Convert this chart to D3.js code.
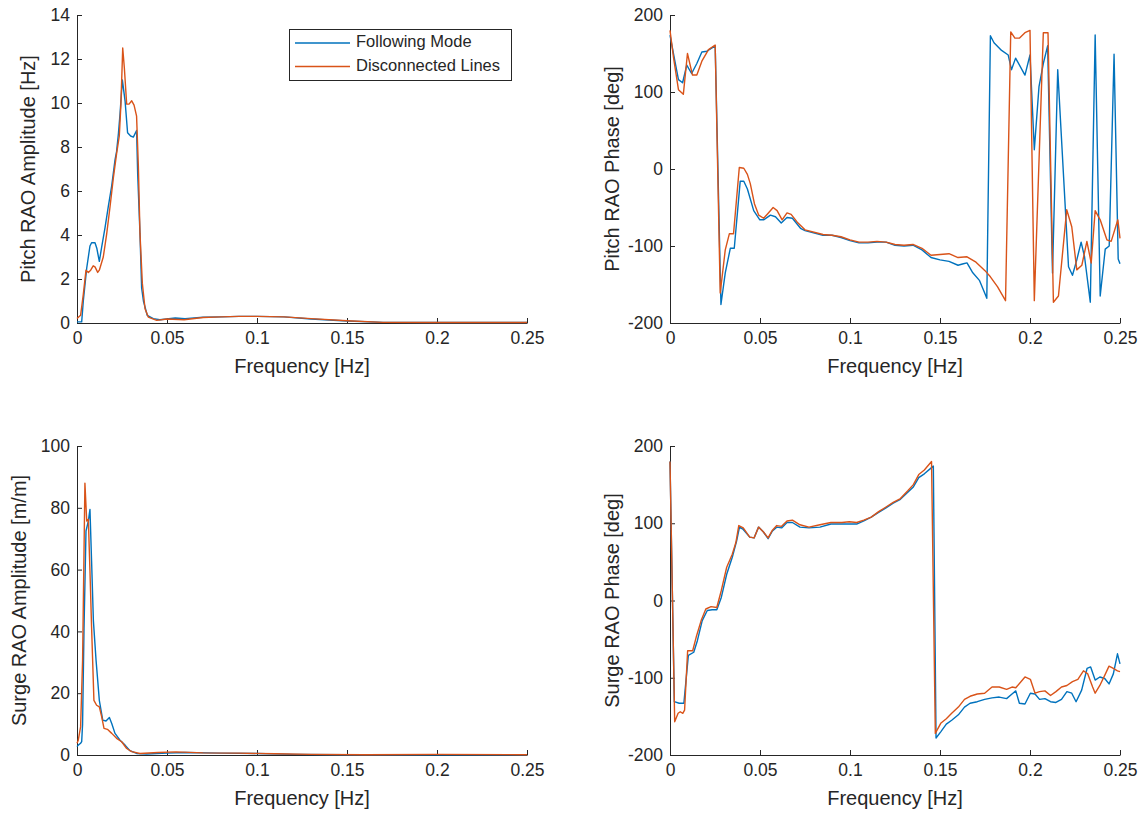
<!DOCTYPE html>
<html><head><meta charset="utf-8">
<script src="https://cdn.jsdelivr.net/npm/d3@7"></script>
<style>
body{margin:0;background:#fff}
svg{display:block}
text{font-family:"Liberation Sans",Arial,Helvetica,sans-serif;fill:#262626}
</style>
</head><body>
<svg id="c" width="1144" height="820"></svg>
<script>
// ---------- data ----------
const freqTicks = [0, 0.05, 0.1, 0.15, 0.2, 0.25];
const freqTickLabels = ["0", "0.05", "0.1", "0.15", "0.2", "0.25"];
const pitchAmpTicks = [0, 2, 4, 6, 8, 10, 12, 14];
const surgeAmpTicks = [0, 20, 40, 60, 80, 100];
const phaseTicks = [-200, -100, 0, 100, 200];
const seriesNames = ["Following Mode", "Disconnected Lines"];

// [frequency Hz, value]
const pitchAmpFollow = [[0,0.05],[0.0026,0.05],[0.0035,1.0],[0.0054,2.5],[0.0072,3.5],[0.0081,3.65],[0.01,3.65],[0.011,3.4],[0.0124,2.8],[0.0137,3.45],[0.0156,4.35],[0.0174,5.3],[0.0193,6.25],[0.0211,7.4],[0.022,7.8],[0.023,8.6],[0.0239,9.5],[0.0252,11.05],[0.0267,10.1],[0.0281,8.65],[0.0298,8.5],[0.0313,8.45],[0.0331,8.75],[0.0337,6.8],[0.035,4.05],[0.0359,1.6],[0.0369,1.0],[0.039,0.35],[0.0424,0.2],[0.046,0.15],[0.0546,0.23],[0.06,0.2],[0.07,0.26],[0.08,0.28],[0.09,0.3],[0.1,0.3],[0.115,0.28],[0.13,0.18],[0.15,0.09],[0.17,0.03],[0.2,0.02],[0.25,0.02]];
const pitchAmpDisc = [[0,0.2],[0.002,0.35],[0.0035,1.3],[0.005,2.4],[0.0063,2.3],[0.0076,2.4],[0.009,2.6],[0.01,2.55],[0.0115,2.3],[0.0124,2.4],[0.0146,3.0],[0.0165,4.05],[0.0183,5.25],[0.0202,6.6],[0.022,7.7],[0.0235,8.5],[0.0244,9.95],[0.0254,12.5],[0.0263,11.6],[0.0276,9.95],[0.0289,9.95],[0.0304,10.1],[0.0317,9.9],[0.0331,9.4],[0.0341,7.1],[0.035,4.05],[0.0363,1.8],[0.0378,0.65],[0.0396,0.27],[0.0443,0.12],[0.05,0.18],[0.0595,0.15],[0.07,0.25],[0.08,0.28],[0.09,0.3],[0.1,0.3],[0.115,0.28],[0.13,0.2],[0.15,0.1],[0.17,0.03],[0.2,0.02],[0.25,0.02]];

const pitchPhaseFollow = [[0,174],[0.0028,139],[0.0047,116],[0.007,112],[0.0093,135],[0.012,124],[0.0149,137],[0.0177,152],[0.0205,153],[0.0251,160],[0.0283,-176],[0.0307,-135],[0.0335,-103],[0.0357,-103],[0.039,-16],[0.041,-16],[0.043,-26],[0.0465,-54],[0.0499,-66],[0.052,-66],[0.0558,-60],[0.0586,-62],[0.0618,-70],[0.065,-63],[0.068,-64],[0.0725,-77],[0.075,-80],[0.085,-86],[0.09,-86],[0.095,-89],[0.1,-93],[0.105,-96],[0.11,-96],[0.115,-95],[0.12,-95],[0.125,-99],[0.13,-100],[0.135,-99],[0.14,-105],[0.145,-115],[0.15,-118],[0.155,-120],[0.16,-125],[0.163,-123],[0.165,-122],[0.168,-134],[0.172,-145],[0.175,-162],[0.176,-168],[0.178,173],[0.18,164],[0.1842,154],[0.1879,148],[0.1897,129],[0.192,144],[0.1972,122],[0.2,148],[0.2024,25],[0.205,107],[0.2074,137],[0.2098,160],[0.2125,-135],[0.2154,129],[0.2214,-127],[0.2236,-138],[0.226,-118],[0.2284,-95],[0.2303,-114],[0.2335,-173],[0.2362,174],[0.239,-165],[0.2418,-104],[0.244,-100],[0.2467,149],[0.249,-117],[0.25,-123]];
const pitchPhaseDisc = [[0,180],[0.002,144],[0.0047,103],[0.0074,97],[0.0097,150],[0.0125,122],[0.0149,122],[0.0177,140],[0.0214,155],[0.0251,161],[0.0279,-161],[0.0307,-105],[0.033,-84],[0.0353,-84],[0.0385,2],[0.041,1],[0.043,-7],[0.0446,-19],[0.0469,-45],[0.0493,-60],[0.052,-64],[0.0543,-58],[0.0573,-50],[0.0595,-54],[0.0623,-66],[0.065,-57],[0.0673,-59],[0.0707,-69],[0.075,-79],[0.085,-85],[0.09,-86],[0.095,-88],[0.1,-92],[0.105,-95],[0.11,-95],[0.115,-94],[0.12,-95],[0.125,-98],[0.13,-99],[0.135,-98],[0.14,-103],[0.145,-112],[0.15,-111],[0.155,-110],[0.16,-115],[0.165,-114],[0.17,-121],[0.175,-132],[0.178,-140],[0.182,-153],[0.1864,-171],[0.1893,178],[0.1916,170],[0.1942,170],[0.1972,177],[0.2,180],[0.2024,-171],[0.2074,177],[0.21,177],[0.213,-173],[0.2158,-165],[0.2204,-53],[0.2232,-75],[0.226,-131],[0.2288,-125],[0.2316,-94],[0.234,-122],[0.2362,-54],[0.239,-66],[0.2427,-92],[0.2451,-94],[0.2488,-66],[0.25,-90]];

const surgeAmpFollow = [[0,2.7],[0.0007,3.2],[0.002,3.8],[0.0026,4.3],[0.0031,10],[0.0039,41],[0.005,72.5],[0.0063,75.7],[0.0072,79.5],[0.0081,62.8],[0.0091,43.5],[0.0106,30.6],[0.0124,17.7],[0.0143,11.3],[0.0161,11],[0.018,12.1],[0.0193,10.2],[0.0211,7],[0.0239,4.8],[0.0267,3.2],[0.0294,1.4],[0.0331,0.5],[0.0387,0.3],[0.05,0.6],[0.06,0.8],[0.08,0.6],[0.1,0.5],[0.12,0.2],[0.15,0.1],[0.2,0.1],[0.25,0.1]];
const surgeAmpDisc = [[0,3.8],[0.0007,4.8],[0.002,9.1],[0.0031,30.6],[0.0044,88],[0.0054,75.7],[0.0063,76.3],[0.0072,59.6],[0.0081,41.4],[0.0094,17.7],[0.0109,16.1],[0.0124,15.6],[0.0137,12.4],[0.015,8.6],[0.0169,8.3],[0.0193,7],[0.022,5.4],[0.0248,4.3],[0.0276,2.1],[0.0304,1.1],[0.035,0.5],[0.045,0.8],[0.055,1.0],[0.07,0.7],[0.09,0.6],[0.11,0.4],[0.13,0.2],[0.16,0.1],[0.2,0.2],[0.25,0.1]];

const surgePhaseFollow = [[0,180],[0.0024,-131],[0.0051,-133],[0.0077,-133],[0.0102,-71],[0.0132,-67],[0.0152,-52],[0.0179,-26],[0.0207,-13],[0.0234,-12],[0.026,-12],[0.0285,4],[0.0315,34],[0.0346,56],[0.037,77],[0.0386,95],[0.0407,92],[0.0443,82],[0.0467,81],[0.0492,95],[0.0518,89],[0.0545,80],[0.0569,90],[0.0593,95],[0.062,94],[0.065,101],[0.068,101],[0.0722,95],[0.0772,94],[0.0833,95],[0.0894,99],[0.0955,99],[0.0996,99],[0.1037,99],[0.1077,103],[0.1118,108],[0.1159,114],[0.12,120],[0.124,126],[0.128,131],[0.1321,140],[0.1352,147],[0.1382,159],[0.1413,164],[0.1453,172],[0.1463,174],[0.1478,-178],[0.1504,-170],[0.1535,-160],[0.1565,-155],[0.1602,-148],[0.1636,-138],[0.1667,-133],[0.1707,-131],[0.1748,-128],[0.1789,-126],[0.1829,-125],[0.187,-127],[0.19,-121],[0.1921,-117],[0.1941,-133],[0.1972,-134],[0.2002,-120],[0.2028,-121],[0.2053,-128],[0.2083,-127],[0.2114,-131],[0.2144,-132],[0.2175,-128],[0.2205,-118],[0.2232,-120],[0.2256,-131],[0.2287,-116],[0.2317,-88],[0.2337,-86],[0.2362,-103],[0.2388,-99],[0.2415,-101],[0.2439,-108],[0.2463,-95],[0.2486,-69],[0.25,-82]];
const surgePhaseDisc = [[0,180],[0.0026,-157],[0.0045,-146],[0.0057,-144],[0.0071,-146],[0.0081,-142],[0.0098,-65],[0.0126,-65],[0.0146,-47],[0.0173,-26],[0.0199,-11],[0.0228,-8],[0.026,-9],[0.0285,13],[0.0315,43],[0.0346,60],[0.0366,75],[0.0382,97],[0.0407,94],[0.0443,82],[0.0467,81],[0.0492,95],[0.0518,89],[0.0545,81],[0.0569,91],[0.0593,97],[0.062,96],[0.065,103],[0.068,104],[0.0722,98],[0.0772,95],[0.0833,98],[0.0894,101],[0.0955,101],[0.0996,102],[0.1037,101],[0.1077,104],[0.1118,108],[0.1159,115],[0.12,121],[0.124,127],[0.128,132],[0.1321,142],[0.1352,150],[0.1382,163],[0.1413,169],[0.1453,180],[0.1474,-172],[0.1504,-159],[0.1535,-153],[0.1565,-146],[0.1602,-138],[0.1636,-128],[0.1667,-124],[0.1707,-121],[0.1748,-120],[0.1789,-112],[0.1829,-112],[0.187,-115],[0.19,-112],[0.1921,-113],[0.1972,-99],[0.2002,-102],[0.2028,-120],[0.2053,-118],[0.2083,-117],[0.2114,-123],[0.2144,-118],[0.2175,-112],[0.2205,-110],[0.2236,-105],[0.2266,-102],[0.2297,-91],[0.2321,-95],[0.2348,-112],[0.2362,-120],[0.2388,-110],[0.2419,-95],[0.2439,-85],[0.2463,-88],[0.2486,-91],[0.25,-92]];

// ---------- drawing ----------
const svg = d3.select("#c");
const colors = ["#0072BD", "#D95319"];
const axisColor = "#262626";
const tickFont = 17.5, labelFont = 20, legendFont = 16.5;

function panel(box, yDomain, yTicks, yLabel, yLabelOffset, series) {
  const x = d3.scaleLinear().domain([0, 0.25]).range([box.l, box.r]);
  const y = d3.scaleLinear().domain(yDomain).range([box.b, box.t]);
  const g = svg.append("g");

  const xa = g.append("g").attr("transform", `translate(0,${box.b})`)
    .call(d3.axisBottom(x).tickValues(freqTicks).tickFormat((d, i) => freqTickLabels[i])
      .tickSizeInner(-5).tickSizeOuter(0).tickPadding(9));
  const ya = g.append("g").attr("transform", `translate(${box.l},0)`)
    .call(d3.axisLeft(y).tickValues(yTicks).tickFormat(d => String(d))
      .tickSizeInner(-5).tickSizeOuter(0).tickPadding(7));
  [xa, ya].forEach(a => {
    a.attr("font-size", tickFont).attr("font-family", null);
    a.select(".domain").attr("stroke", axisColor).attr("stroke-width", 1);
    a.selectAll(".tick line").attr("stroke", axisColor);
    a.selectAll(".tick text").attr("fill", axisColor);
  });

  const line = d3.line().x(d => x(d[0])).y(d => y(d[1]));
  series.forEach((s, i) => {
    g.append("path").datum(s).attr("d", line)
      .attr("fill", "none").attr("stroke", colors[i])
      .attr("stroke-width", 1.4).attr("stroke-linejoin", "round");
  });

  g.append("text").attr("x", (box.l + box.r) / 2).attr("y", box.b + 45)
    .attr("text-anchor", "middle").attr("dominant-baseline", "middle")
    .attr("font-size", labelFont).text("Frequency [Hz]");
  const cy = (box.t + box.b) / 2, cx = box.l - yLabelOffset;
  g.append("text").attr("transform", `translate(${cx},${cy}) rotate(-90)`)
    .attr("text-anchor", "middle").attr("dominant-baseline", "middle")
    .attr("font-size", labelFont).text(yLabel);
  return {x, y};
}

const TL = {l: 77, r: 527, t: 15, b: 323};
const TR = {l: 670, r: 1120, t: 15, b: 323};
const BL = {l: 77, r: 527, t: 446, b: 755};
const BR = {l: 670, r: 1120, t: 446, b: 755};

panel(TL, [0, 14], pitchAmpTicks, "Pitch RAO Amplitude [Hz]", 47, [pitchAmpFollow, pitchAmpDisc]);
panel(TR, [-200, 200], phaseTicks, "Pitch RAO Phase [deg]", 56, [pitchPhaseFollow, pitchPhaseDisc]);
panel(BL, [0, 100], surgeAmpTicks, "Surge RAO Amplitude [m/m]", 56, [surgeAmpFollow, surgeAmpDisc]);
panel(BR, [-200, 200], phaseTicks, "Surge RAO Phase [deg]", 56, [surgePhaseFollow, surgePhaseDisc]);

// legend
const lg = svg.append("g");
lg.append("rect").attr("x", 289.5).attr("y", 29.5).attr("width", 222).attr("height", 51)
  .attr("fill", "#fff").attr("stroke", axisColor).attr("stroke-width", 1);
seriesNames.forEach((name, i) => {
  const yy = 43 + i * 23.5;
  lg.append("line").attr("x1", 295).attr("x2", 350).attr("y1", yy).attr("y2", yy)
    .attr("stroke", colors[i]).attr("stroke-width", 1.4);
  lg.append("text").attr("x", 356).attr("y", yy).attr("dominant-baseline", "middle")
    .attr("font-size", legendFont).text(name);
});
</script>
</body></html>
